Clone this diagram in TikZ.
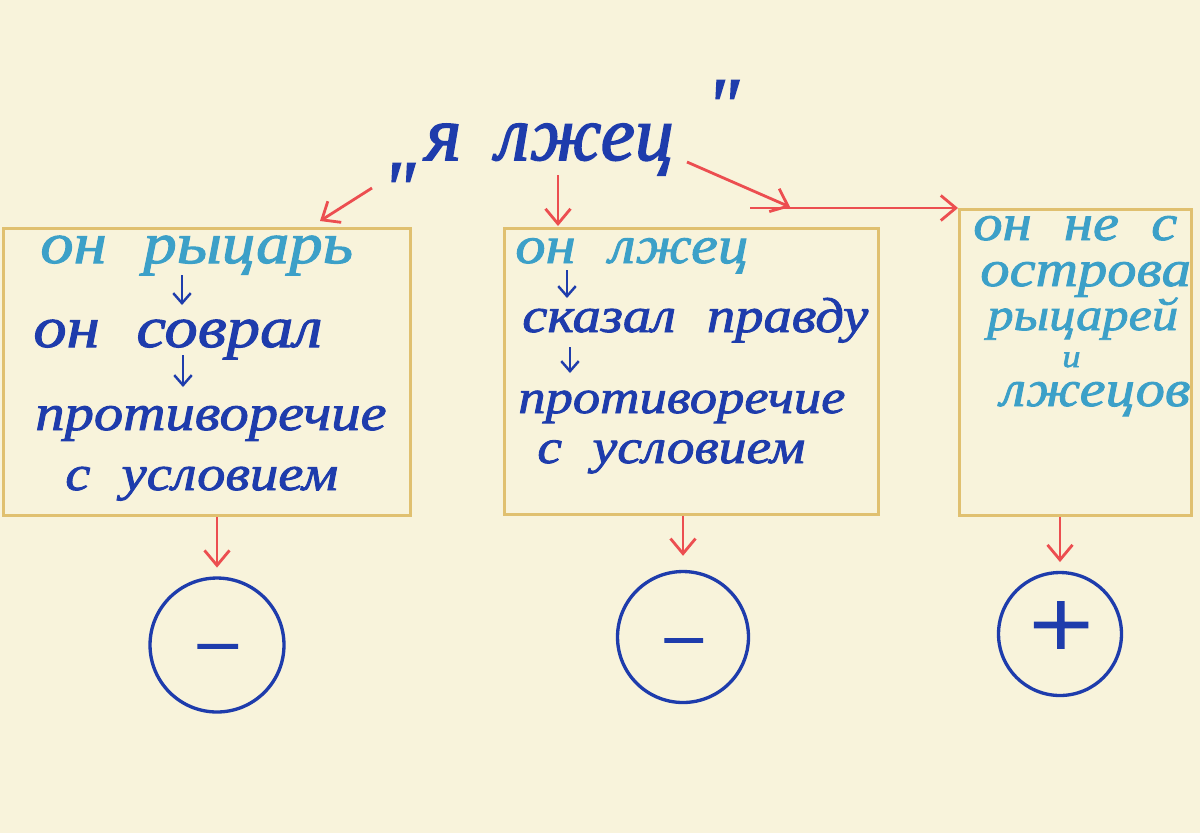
\documentclass[tikz,border=0pt]{standalone}
\usepackage{fontspec}
\newfontfamily\hand[FakeStretch=1.15,WordSpace=2.2,ItalicFeatures={FakeBold=1.8}]{Liberation Serif}
\newfontfamily\headfont[ItalicFeatures={FakeBold=2}]{Liberation Serif}
\usetikzlibrary{arrows.meta}
\definecolor{paper}{RGB}{248,243,219}
\definecolor{tan}{RGB}{224,192,112}
\definecolor{redink}{RGB}{236,78,80}
\definecolor{deep}{RGB}{30,60,172}
\definecolor{pale}{RGB}{60,160,200}

\begin{document}
\begin{tikzpicture}[x=0.02cm,y=-0.02cm,
  ink/.style={anchor=base west, inner sep=0pt, text=deep, font=\hand\itshape\fontsize{#1}{#1}\selectfont},
  head/.style={anchor=base west, inner sep=0pt, text=deep, font=\headfont\itshape\fontsize{#1}{#1}\selectfont},
  pale/.style={text=pale},
  frame/.style={draw=tan, line width=1.7pt, anchor=north west, inner sep=0pt},
  ring/.style={draw=deep, line width=1.9pt, circle, inner sep=0pt, text=deep},
  redarr/.style={draw=redink, line width=1.6pt, -{Straight Barb[length=3mm,width=5mm]}},
  bluearr/.style={draw=deep, line width=1.4pt, -{Straight Barb[length=2mm,width=3.5mm]}}]

\fill[paper] (0,0) rectangle (1200,833);
\useasboundingbox (0,0) rectangle (1200,833);

%title
\node[head=44, anchor=north west] (oq) at (382,163) {"};
\node[head=44] (t) at (425,160) {я\hspace{0.45em}лжец};
\node[head=44, anchor=north west] (cq) at (706,80) {"};

%boxes
\node[frame, minimum width=8.14cm, minimum height=5.74cm] (b1) at (2,227) {};
\node[frame, minimum width=7.48cm, minimum height=5.72cm] (b2) at (503,227) {};
\node[frame, minimum width=4.64cm, minimum height=6.12cm] (b3) at (958,208) {};

%left box
\node[ink=33, pale] (k1) at (40,263) {он рыцарь};
\node[ink=33] (k2) at (33,347) {он соврал};
\node[ink=29] (k3) at (35,430) {противоречие};
\node[ink=28] (k4) at (65,490) {с условием};

%middle box
\node[ink=30, pale] (n1) at (515,263) {он лжец};
\node[ink=28] (n2) at (522,332) {сказал правду};
\node[ink=27] (n3) at (518,413) {противоречие};
\node[ink=27.5] (n4) at (537,463) {с условием};

%right box
\node[ink=29, pale] (o1) at (973,240) {он не с};
\node[ink=29, pale] (o2) at (980,286) {острова};
\node[ink=26, pale] (o3) at (987,330) {рыцарей};
\node[ink=18, pale] (o4) at (1062,367) {и};
\node[ink=29, pale] (o5) at (1000,406) {лжецов};

%circles
\node[ring, minimum size=2.68cm, font=\hand\itshape\fontsize{42}{42}\selectfont] (c1) at (217,645) {\smash{\raisebox{-0.35em}{−}}};
\node[ring, minimum size=2.62cm, font=\hand\itshape\fontsize{40}{40}\selectfont] (c2) at (683,637) {\smash{\raisebox{-0.38em}{−}}};
\node[ring, minimum size=2.46cm, font=\hand\itshape\fontsize{56}{56}\selectfont] (c3) at (1060,634) {\smash{\raisebox{-0.24em}{+}}};

%small blue arrows
\coordinate (a1) at (182,275);
\coordinate (a2) at (182,305);
\coordinate (a3) at (183,355);
\coordinate (a4) at (183,387);
\coordinate (a5) at (567,270);
\coordinate (a6) at (567,298);
\coordinate (a7) at (570,347);
\coordinate (a8) at (570,373);
\draw[bluearr] (a1) -- (a2);
\draw[bluearr] (a3) -- (a4);
\draw[bluearr] (a5) -- (a6);
\draw[bluearr] (a7) -- (a8);

%red arrows
\coordinate (ls) at (372,188);
\coordinate (le) at (320,221);
\coordinate (ms) at (558,175);
\coordinate (me) at (558,226);
\coordinate (rs) at (687,162);
\coordinate (rm) at (790,207);
\coordinate (rk) at (750,208);
\draw[redarr] (ls) -- (le);
\draw[redarr] (ms) -- (me);
\draw[redarr] (rs) -- (rm);
\draw[redarr] (rk) -- (b3.north west);
\draw[redarr, shorten >=5pt] (b1.south -| c1.north) -- (c1.north);
\draw[redarr, shorten >=8pt] (b2.south -| c2.north) -- (c2.north);
\draw[redarr, shorten >=5pt] (b3.south -| c3.north) -- (c3.north);

\end{tikzpicture}
\end{document}
